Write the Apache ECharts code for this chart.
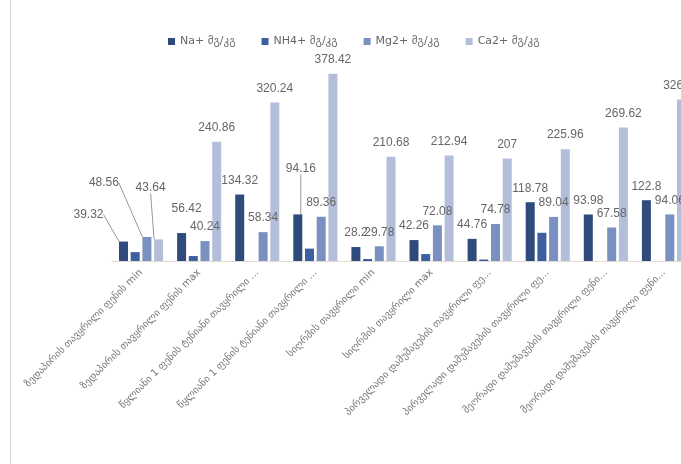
<!DOCTYPE html>
<html>
<head>
<meta charset="utf-8">
<script src="https://cdn.jsdelivr.net/npm/echarts@6/dist/echarts.min.js"></script>
<style>html,body{margin:0;padding:0;background:#fff;}#c{width:681px;height:464px;}</style>
</head>
<body>
<div id="c"></div>
<script>
const categories = [
  "ზედაპირის თავყრილი ფენის min",
  "ზედაპირის თავყრილი ფენის max",
  "წყლიანი 1 ფენის ტენიანი თავყრილი ფენის min",
  "წყლიანი 1 ფენის ტენიანი თავყრილი ფენის max",
  "სიღრმის თავყრილი min",
  "სიღრმის თავყრილი max",
  "პირველადი დამუშავების თავყრილი ფენის min",
  "პირველადი დამუშავების თავყრილი ფენის max",
  "მეორადი დამუშავების თავყრილი ფენის min",
  "მეორადი დამუშავების თავყრილი ფენის max"
];
const seriesNames = ["Na+ მგ/კგ", "NH4+ მგ/კგ", "Mg2+ მგ/კგ", "Ca2+ მგ/კგ"];
const na  = [39.32, 56.42, 134.32, 94.16, 28.2, 42.26, 44.76, 118.78, 93.98, 122.8];
const nh4 = [18, 10, 0, 25, 4, 14, 3, 57, 0, 0];
const mg  = [48.56, 40.24, 58.34, 89.36, 29.78, 72.08, 74.78, 89.04, 67.58, 94.06];
const ca  = [43.64, 240.86, 320.24, 378.42, 210.68, 212.94, 207, 225.96, 269.62, 326.48];
const colors = ["#2f4b7c", "#3d5f9f", "#7990c0", "#b3bedb"];

// moved labels (with leader lines) as in reference: series index -> data index -> [dx, dy, leader]
const labelMoves = {
  0: {0: [-35, -13, true], 1: [5, -10, false], 3: [3, -32, true]},
  2: {0: [-43, -40, true]},
  3: {0: [-8, -38, true]}
};

function truncLabel(s, maxChars) {
  return s.length > maxChars ? s.slice(0, maxChars) + '...' : s;
}

const chart = echarts.init(document.getElementById('c'));
const dataArr = [na, nh4, mg, ca];
const series = dataArr.map((d, i) => ({
  name: seriesNames[i],
  type: 'bar',
  data: d.map((v, j) => {
    const m = labelMoves[i] && labelMoves[i][j];
    return (m && m[2]) ? {value: v, labelLine: {show: true}} : {value: v};
  }),
  barWidth: 9,
  barGap: '30%',
  itemStyle: {color: colors[i]},
  label: {
    show: i !== 1,
    position: 'top',
    distance: 8,
    color: '#666',
    fontSize: 12,
    fontFamily: 'Liberation Sans, Arial, sans-serif',
    formatter: p => String(p.value)
  },
  labelLine: {show: false, lineStyle: {color: '#999', width: 1}},
  labelLayout: function (params) {
    const m = labelMoves[i] && labelMoves[i][params.dataIndex];
    if (m) return {dx: m[0], dy: m[1]};
    return {};
  }
}));

chart.setOption({
  animation: false,
  backgroundColor: '#fff',
  color: colors,
  legend: {
    top: 31,
    left: 163,
    itemWidth: 7,
    itemHeight: 7,
    itemGap: 26,
    icon: 'rect',
    textStyle: {color: '#666', fontSize: 11, fontFamily: 'DejaVu Sans, sans-serif'},
    data: seriesNames
  },
  grid: {left: 112, width: 581, top: 63, bottom: 203, outerBoundsMode: 'none', containLabel: false},
  xAxis: {
    type: 'category',
    data: categories,
    axisLine: {lineStyle: {color: '#e2dcd0'}},
    axisTick: {show: false},
    axisLabel: {
      rotate: 45,
      interval: 0,
      color: '#777',
      fontSize: 10,
      margin: 10,
      fontFamily: 'DejaVu Sans, sans-serif',
      width: 300,
      overflow: 'truncate',
      ellipsis: '...',
      formatter: v => truncLabel(v, 33)
    }
  },
  yAxis: {
    type: 'value',
    min: 0,
    max: 400,
    show: false,
    splitLine: {show: false}
  },
  graphic: [{
    type: 'line',
    shape: {x1: 10.5, y1: 0, x2: 10.5, y2: 464},
    style: {stroke: '#d9d9d9', lineWidth: 1}
  }],
  series: series
});
</script>
</body>
</html>
